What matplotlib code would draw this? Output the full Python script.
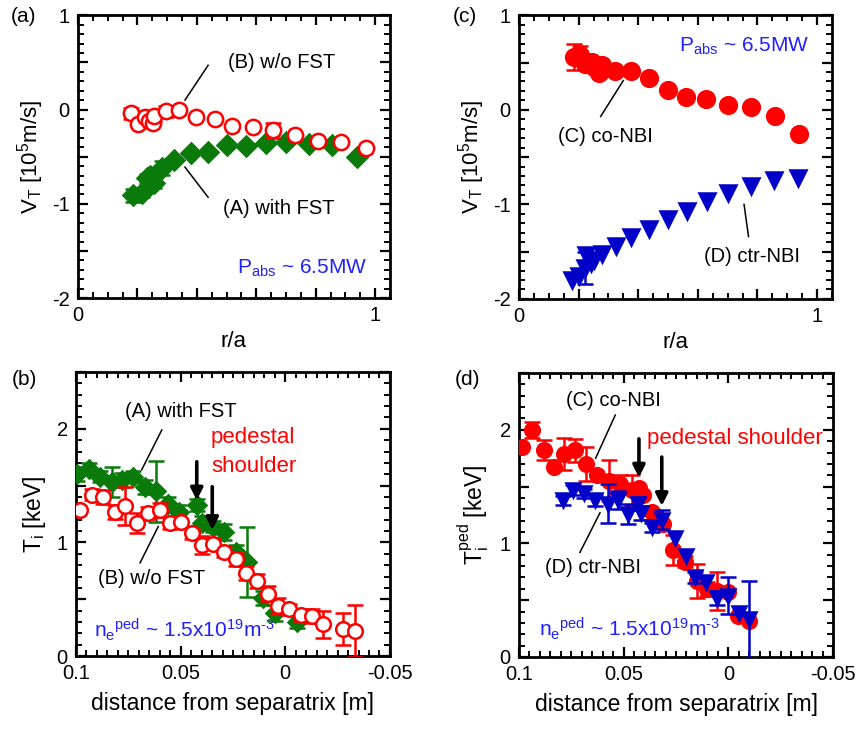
"""
Toroidal rotation and ion temperature pedestal profiles, four panels.
Writes out.png
"""
import numpy as np
import matplotlib
matplotlib.use("Agg")
import matplotlib.pyplot as plt
from matplotlib.ticker import MultipleLocator, FuncFormatter

plt.rcParams["font.family"] = ["Liberation Sans", "DejaVu Sans"]
plt.rcParams["mathtext.fontset"] = "custom"
plt.rcParams["mathtext.rm"] = "Liberation Sans"
plt.rcParams["mathtext.it"] = "Liberation Sans"
plt.rcParams["axes.unicode_minus"] = False

RED = "#ff0000"
GREEN = "#0a7a0a"
BLUE = "#0000c8"
TXTBLUE = "#2020ff"

# (a) V_T profiles, with / without FST
r_A = [0.186, 0.214, 0.231, 0.242, 0.257, 0.282, 0.323, 0.379, 0.439, 0.500,
       0.566, 0.632, 0.700, 0.779, 0.856, 0.938]
vt_A = [-0.91, -0.88, -0.73, -0.70, -0.78, -0.62, -0.53, -0.46, -0.45, -0.38,
        -0.39, -0.35, -0.34, -0.37, -0.38, -0.50]
vt_A_err = [0.07, 0.05, 0.05, 0, 0.05, 0.07, 0, 0, 0, 0, 0, 0, 0, 0, 0, 0]

r_B = [0.178, 0.203, 0.226, 0.240, 0.251, 0.256, 0.295, 0.341, 0.397, 0.461,
       0.520, 0.588, 0.658, 0.731, 0.807, 0.884, 0.970]
vt_B = [-0.04, -0.15, -0.08, -0.12, -0.14, -0.07, -0.02, 0.00, -0.08, -0.10,
        -0.17, -0.18, -0.22, -0.27, -0.33, -0.34, -0.41]
vt_B_err = [0.06, 0, 0.05, 0, 0, 0.05, 0.06, 0, 0, 0, 0, 0, 0.08, 0, 0, 0, 0]

# (c) V_T profiles, co / ctr NBI
r_C = [0.186, 0.206, 0.223, 0.246, 0.253, 0.268, 0.279, 0.322, 0.375, 0.435,
       0.499, 0.561, 0.628, 0.702, 0.777, 0.860, 0.938]
vt_C = [0.56, 0.58, 0.49, 0.51, 0.45, 0.39, 0.47, 0.41, 0.41, 0.34,
        0.21, 0.14, 0.11, 0.05, 0.03, -0.06, -0.26]
vt_C_err = [0.14, 0.10, 0, 0, 0, 0, 0, 0, 0, 0, 0, 0, 0, 0, 0, 0, 0]

r_D = [0.178, 0.200, 0.220, 0.226, 0.240, 0.253, 0.279, 0.324, 0.375, 0.437,
       0.501, 0.564, 0.632, 0.702, 0.777, 0.854, 0.935]
vt_D = [-1.80, -1.76, -1.67, -1.54, -1.62, -1.59, -1.52, -1.44, -1.34, -1.26,
        -1.15, -1.07, -0.96, -0.88, -0.81, -0.74, -0.72]
vt_D_err = [0, 0, 0.17, 0, 0, 0, 0, 0, 0, 0, 0, 0, 0, 0, 0, 0, 0]

# (b) Ti vs distance from separatrix, with / without FST
d_A = [0.0994, 0.0936, 0.0885, 0.0829, 0.0782, 0.0726, 0.067, 0.0618, 0.0562,
       0.0506, 0.0423, 0.040, 0.0344, 0.0291, 0.0237, 0.0184, 0.0105, 0.0049,
       -0.0055]
ti_A = [1.60, 1.65, 1.58, 1.53, 1.55, 1.58, 1.49, 1.45, 1.34, 1.27, 1.33, 1.17,
        1.14, 1.09, 0.92, 0.83, 0.51, 0.375, 0.30]
ti_A_err = [0.06, 0.05, 0.05, 0.13, 0.06, 0.05, 0.06, 0.27, 0.06, 0.06, 0.05,
            0.06, 0.05, 0.07, 0.06, 0.31, 0.06, 0.07, 0.05]

d_B = [0.098, 0.0925, 0.087, 0.0814, 0.0766, 0.071, 0.0655, 0.060, 0.055,
       0.0498, 0.0447, 0.0396, 0.0344, 0.0291, 0.0237, 0.0188, 0.0137, 0.0084,
       0.0033, -0.0019, -0.0074, -0.0126, -0.0179, -0.0277, -0.0333]
ti_B = [1.285, 1.42, 1.40, 1.27, 1.32, 1.17, 1.26, 1.285, 1.17, 1.18, 1.08,
        0.98, 0.99, 0.92, 0.85, 0.73, 0.66, 0.55, 0.44, 0.41, 0.36, 0.35, 0.28,
        0.235, 0.22]
ti_B_err = [0, 0.05, 0.06, 0.06, 0.17, 0.09, 0.05, 0.06, 0.05, 0, 0.05, 0.08,
            0.05, 0.05, 0.06, 0.06, 0.06, 0.07, 0.07, 0.05, 0.05, 0.06, 0.12,
            0.14, 0.23]

# (d) Ti_ped vs distance from separatrix, co / ctr NBI
d_C = [0.0987, 0.0939, 0.0879, 0.0833, 0.0783, 0.0732, 0.068, 0.0629, 0.057,
       0.0517, 0.0462, 0.0425, 0.0406, 0.0366, 0.0313, 0.0263, 0.0207, 0.0151,
       0.0103, 0.0055, 0.0003, -0.0048, -0.01]
ti_C = [1.85, 2.00, 1.82, 1.67, 1.79, 1.82, 1.70, 1.60, 1.55, 1.52, 1.47, 1.49,
        1.43, 1.28, 1.17, 0.94, 0.84, 0.67, 0.60, 0.58, 0.57, 0.36, 0.32]
ti_C_err = [0, 0.07, 0.09, 0, 0.14, 0.10, 0.15, 0, 0.18, 0.08, 0.13, 0, 0, 0,
            0, 0.13, 0.05, 0.15, 0.06, 0.17, 0, 0, 0]

d_D = [0.0791, 0.074, 0.0689, 0.0637, 0.0573, 0.0526, 0.0478, 0.043, 0.0419,
       0.0366, 0.0318, 0.0255, 0.0202, 0.0159, 0.0107, 0.0055, 0.0003, -0.0053,
       -0.01]
ti_D = [1.38, 1.47, 1.44, 1.38, 1.35, 1.38, 1.26, 1.35, 1.27, 1.14, 1.21, 1.05,
        0.89, 0.70, 0.66, 0.52, 0.54, 0.39, 0.33]
ti_D_err = [0.04, 0.04, 0.04, 0.05, 0.17, 0.08, 0.09, 0.06, 0.06, 0.04, 0.08,
            0, 0, 0.05, 0, 0.06, 0.16, 0, 0.34]

NE_LABEL = r"n$_\mathrm{e}$$^\mathrm{ped}$ ~ 1.5x10$^{19}$m$^{\text{-3}}$"
PABS_LABEL = r"P$_\mathrm{abs}$ ~ 6.5MW"


def series(ax, x, y, yerr, color, marker, ms, filled=True, z=3):
    x, y, yerr = np.asarray(x), np.asarray(y), np.asarray(yerr)
    m = yerr > 0
    ax.errorbar(x[m], y[m], yerr=yerr[m], fmt="none", ecolor=color,
                elinewidth=1.8, capsize=6, capthick=1.8, zorder=z)
    face = color if filled else "white"
    ax.plot(x, y, ls="none", marker=marker, ms=ms, mfc=face, mec=color,
            mew=1.8, zorder=z + 0.5)


def style(ax):
    for s in ax.spines.values():
        s.set_linewidth(2.0)
    ax.tick_params(which="both", direction="in", top=True, right=True,
                   labelsize=14.5, pad=6)
    ax.tick_params(which="major", length=7, width=1.6)
    ax.tick_params(which="minor", length=4, width=1.4)


def int_only(v, pos):
    return f"{v:g}" if abs(v - round(v)) < 1e-6 else ""


def style_rprofile(ax):
    style(ax)
    ax.set_xlim(0, 1.05)
    ax.set_ylim(-2, 1)
    ax.xaxis.set_major_locator(MultipleLocator(0.2))
    ax.xaxis.set_minor_locator(MultipleLocator(0.05))
    ax.yaxis.set_major_locator(MultipleLocator(0.5))
    ax.yaxis.set_minor_locator(MultipleLocator(0.1))
    ax.xaxis.set_major_formatter(FuncFormatter(int_only))
    ax.yaxis.set_major_formatter(FuncFormatter(int_only))
    ax.set_xlabel("r/a", fontsize=16, labelpad=4)
    ax.set_ylabel(r"V$_\mathrm{T}$ [10$^5$m/s]", fontsize=16, labelpad=4)


def style_edge(ax):
    style(ax)
    ax.set_xlim(0.1, -0.05)
    ax.set_ylim(0, 2.5)
    ax.xaxis.set_major_locator(MultipleLocator(0.05))
    ax.xaxis.set_minor_locator(MultipleLocator(0.005))
    ax.yaxis.set_major_locator(MultipleLocator(0.5))
    ax.yaxis.set_minor_locator(MultipleLocator(0.1))
    ax.xaxis.set_major_formatter(FuncFormatter(lambda v, p: f"{v:g}" if abs(v) > 1e-9 else "0"))
    ax.yaxis.set_major_formatter(FuncFormatter(int_only))
    ax.set_xlabel("distance from separatrix [m]", fontsize=16.5, labelpad=6)


def leader(ax, x0, y0, x1, y1):
    ax.plot([x0, x1], [y0, y1], color="k", lw=1.1, zorder=6)


def down_arrow(ax, x, y0, y1):
    ax.annotate("", xy=(x, y1), xytext=(x, y0),
                arrowprops=dict(arrowstyle="-|>", lw=2.6, color="k",
                                mutation_scale=18, shrinkA=0, shrinkB=0),
                zorder=7)


fig = plt.figure(figsize=(8.57, 7.29), dpi=100)
ax_a = fig.add_axes([0.091, 0.591, 0.364, 0.388])
ax_c = fig.add_axes([0.6056, 0.590, 0.3652, 0.389])
ax_b = fig.add_axes([0.0887, 0.1001, 0.3663, 0.3896])
ax_d = fig.add_axes([0.6056, 0.0988, 0.3664, 0.3895])

TXT = 14.5

# (a)
style_rprofile(ax_a)
series(ax_a, r_A, vt_A, vt_A_err, GREEN, "D", 10.5, True, z=3)
series(ax_a, r_B, vt_B, vt_B_err, RED, "o", 11, False, z=4)
ax_a.text(0.505, 0.50, "(B) w/o FST", fontsize=TXT, va="center")
leader(ax_a, 0.438, 0.47, 0.36, 0.10)
ax_a.text(0.488, -1.05, "(A) with FST", fontsize=TXT, va="center")
leader(ax_a, 0.438, -0.93, 0.36, -0.61)
ax_a.text(0.535, -1.68, PABS_LABEL, fontsize=15, color=TXTBLUE, va="center")

# (c)
style_rprofile(ax_c)
series(ax_c, r_C, vt_C, vt_C_err, RED, "o", 12, True)
series(ax_c, r_D, vt_D, vt_D_err, BLUE, "v", 11, True)
ax_c.text(0.537, 0.67, PABS_LABEL, fontsize=15, color=TXTBLUE, va="center")
ax_c.text(0.132, -0.28, "(C) co-NBI", fontsize=TXT, va="center")
leader(ax_c, 0.274, -0.07, 0.35, 0.31)
ax_c.text(0.62, -1.55, "(D) ctr-NBI", fontsize=TXT, va="center")
leader(ax_c, 0.77, -1.34, 0.755, -1.0)

# (b)
style_edge(ax_b)
ax_b.set_ylabel(r"T$_\mathrm{i}$ [keV]", fontsize=16.5, labelpad=6)
series(ax_b, d_A, ti_A, ti_A_err, GREEN, "D", 9.5, True, z=3)
series(ax_b, d_B, ti_B, ti_B_err, RED, "o", 10.5, False, z=4)
ax_b.text(0.0765, 2.15, "(A) with FST", fontsize=TXT, va="center")
leader(ax_b, 0.059, 1.99, 0.0686, 1.64)
ax_b.text(0.0355, 1.92, "pedestal", fontsize=16, color=RED, va="center")
ax_b.text(0.0355, 1.67, "shoulder", fontsize=16, color=RED, va="center")
down_arrow(ax_b, 0.0423, 1.71, 1.37)
down_arrow(ax_b, 0.0349, 1.49, 1.11)
ax_b.text(0.0895, 0.68, "(B) w/o FST", fontsize=TXT, va="center")
leader(ax_b, 0.0694, 0.82, 0.0607, 1.14)
ax_b.text(0.0915, 0.23, NE_LABEL, fontsize=15, color=TXTBLUE, va="center")

# (d)
style_edge(ax_d)
ax_d.set_ylabel(r"T$_\mathrm{i}^\mathrm{ped}$ [keV]", fontsize=16.5, labelpad=6)
series(ax_d, d_C, ti_C, ti_C_err, RED, "o", 10.5, True, z=3)
series(ax_d, d_D, ti_D, ti_D_err, BLUE, "v", 10, True, z=4)
ax_d.text(0.0775, 2.26, "(C) co-NBI", fontsize=TXT, va="center")
leader(ax_d, 0.054, 2.13, 0.0634, 1.75)
ax_d.text(0.039, 1.92, "pedestal shoulder", fontsize=16, color=RED, va="center")
down_arrow(ax_d, 0.0427, 1.92, 1.58)
down_arrow(ax_d, 0.0318, 1.76, 1.33)
ax_d.text(0.0878, 0.79, "(D) ctr-NBI", fontsize=TXT, va="center")
leader(ax_d, 0.0709, 0.92, 0.0613, 1.27)
ax_d.text(0.0905, 0.25, NE_LABEL, fontsize=15, color=TXTBLUE, va="center")

# panel letters
for lbl, x, y in [("(a)", 0.027, 0.977), ("(c)", 0.543, 0.977),
                  ("(b)", 0.029, 0.479), ("(d)", 0.545, 0.479)]:
    fig.text(x, y, lbl, fontsize=15, ha="center", va="center")

fig.savefig("out.png", dpi=100)
plt.close(fig)
print("Wrote out.png")
